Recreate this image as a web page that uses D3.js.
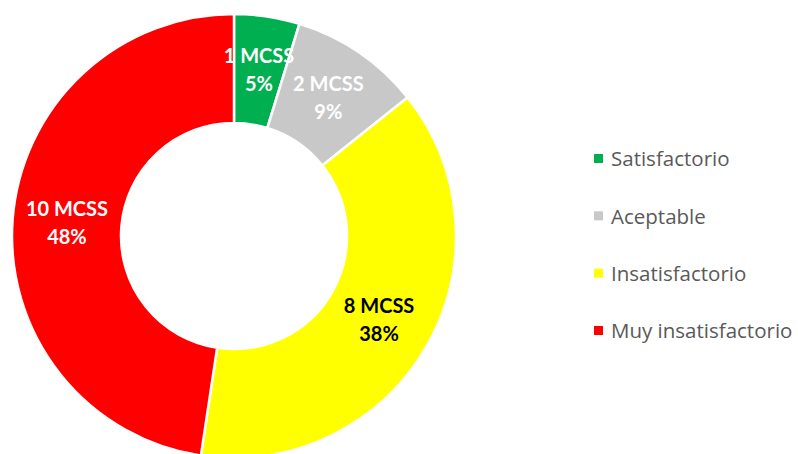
<!DOCTYPE html>
<meta charset="utf-8">
<style>
body { margin: 0; background: #fff; }
text { font-family: Lato, "Open Sans", sans-serif; }
</style>
<svg width="798" height="454"></svg>
<script src="https://cdn.jsdelivr.net/npm/d3@7/dist/d3.min.js"></script>
<script>

var categories = ["Satisfactorio", "Aceptable", "Insatisfactorio", "Muy insatisfactorio"];
var values = [1, 2, 8, 10];
var pctLabels = ["5%", "9%", "38%", "48%"];
var colors = ["#00B050", "#C8C8C8", "#FFFF00", "#FF0000"];
var labelColors = ["#fff", "#fff", "#000", "#fff"];

var svg = d3.select("svg"),
    cx = 234, cy = 236,
    outer = 222, inner = 113;

var data = values.map(function (v, i) {
  return {name: categories[i], value: v, pct: pctLabels[i], color: colors[i], lc: labelColors[i]};
});

var pie = d3.pie().sort(null).value(function (d) { return d.value; });
var arc = d3.arc().innerRadius(inner).outerRadius(outer);
var labelArc = d3.arc().innerRadius((inner + outer) / 2).outerRadius((inner + outer) / 2);

var g = svg.append("g").attr("transform", "translate(" + cx + "," + cy + ")");

g.selectAll("path")
    .data(pie(data))
    .enter()
    .append("path")
    .attr("d", arc)
    .attr("fill", function (d) { return d.data.color; })
    .attr("stroke", "#fff")
    .attr("stroke-width", 2.5);

var lab = g.selectAll(".lab")
    .data(pie(data))
    .enter()
    .append("text")
    .attr("class", "lab")
    .attr("transform", function (d) { return "translate(" + labelArc.centroid(d) + ")"; })
    .attr("text-anchor", "middle")
    .style("font-size", "20px")
    .style("font-weight", "bold")
    .attr("fill", function (d) { return d.data.lc; });

lab.append("tspan")
    .attr("x", 0)
    .attr("y", -7)
    .text(function (d) { return d.data.value + " MCSS"; });

lab.append("tspan")
    .attr("x", 0)
    .attr("y", 21)
    .text(function (d) { return d.data.pct; });

// legend
var ly = d3.scalePoint().domain(categories).range([159, 331]);

var legend = svg.selectAll(".legend")
    .data(data)
    .enter()
    .append("g")
    .attr("class", "legend")
    .attr("transform", function (d) { return "translate(594," + ly(d.name) + ")"; });

legend.append("rect")
    .attr("x", 0)
    .attr("y", -5)
    .attr("width", 9)
    .attr("height", 9)
    .attr("fill", function (d) { return d.color; });

legend.append("text")
    .attr("x", 17)
    .attr("y", 0)
    .attr("dy", "0.35em")
    .style("font-family", "'Open Sans', sans-serif")
    .style("font-size", "20.5px")
    .attr("fill", "#595959")
    .text(function (d) { return d.name; });

</script>
